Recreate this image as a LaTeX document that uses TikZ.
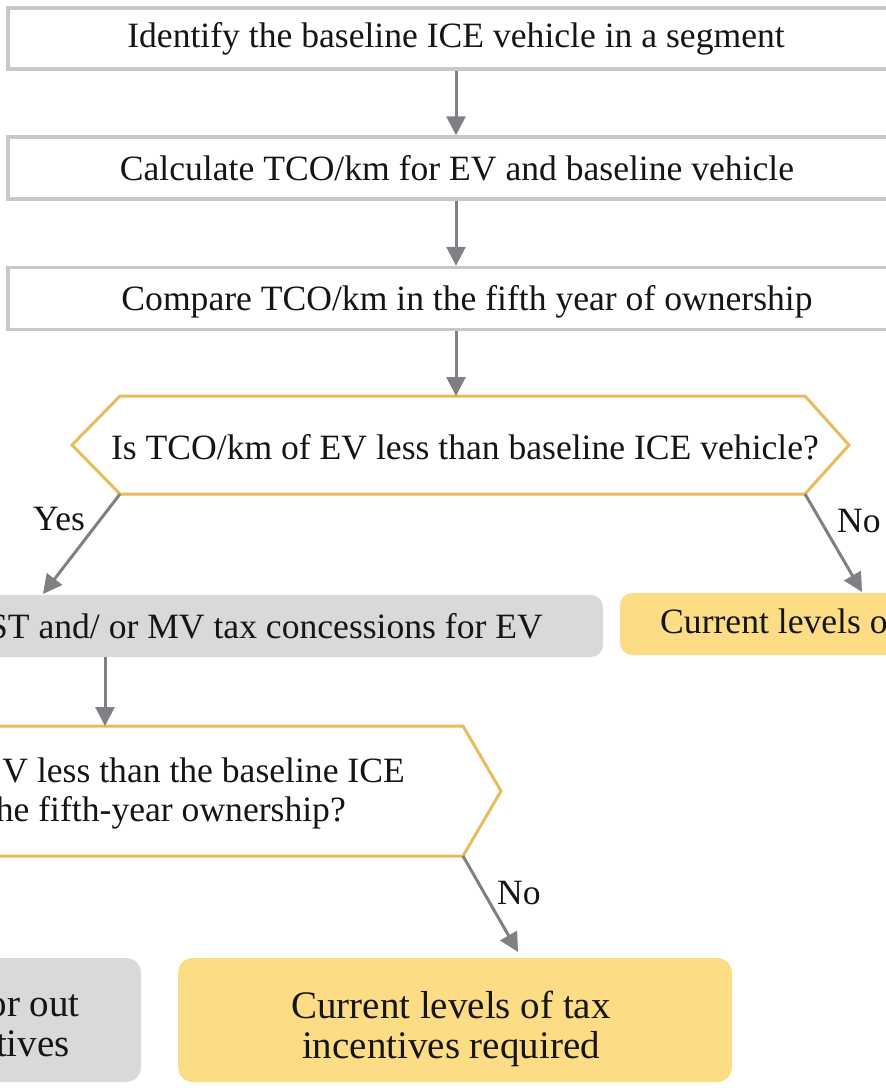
\documentclass[tikz,border=0pt]{standalone}
\usepackage{fontspec}
\setmainfont{Liberation Serif}
\usetikzlibrary{arrows.meta}
\definecolor{boxgray}{HTML}{C8C8C8}
\definecolor{arrowgray}{HTML}{808084}
\definecolor{hexyellow}{HTML}{E8BC5A}
\definecolor{fillgray}{HTML}{D9D9DB}
\definecolor{fillyellow}{HTML}{FDDC86}
\definecolor{inkblack}{HTML}{151515}
\newcommand\fsmain{\fontsize{35.6}{42}\selectfont}
\newcommand\fsbig{\fontsize{39}{46}\selectfont}
\tikzset{
  flowbox/.style={draw=boxgray, line width=3.5pt, fill=white, inner sep=0pt},
  hexline/.style={draw=hexyellow, line width=3pt, line join=miter, fill=white},
  graybox/.style={fill=fillgray, rounded corners=12pt},
  yellowbox/.style={fill=fillyellow, rounded corners=12pt},
  arr/.style={draw=arrowgray, line width=3pt, -{Triangle[length=19pt,width=19pt]}},
  txt/.style={inner sep=0pt, font=\fsmain, text=inkblack},
  bigtxt/.style={inner sep=0pt, font=\fsbig, text=inkblack},
}
\begin{document}
\begin{tikzpicture}[x=1pt,y=-1pt]
\useasboundingbox (0,0) rectangle (886,1088);
\clip (0,0) rectangle (886,1088);
% top process boxes
\node[flowbox, minimum width=896pt, minimum height=61pt] (b1) at (456,38.5) {};
\node[txt, anchor=base] (b1t) at (456,47) {Identify the baseline ICE vehicle in a segment};
\node[flowbox, minimum width=896pt, minimum height=62pt] (b2) at (456,168) {};
\node[txt, anchor=base] (b2t) at (457,180) {Calculate TCO/km for EV and baseline vehicle};
\node[flowbox, minimum width=896pt, minimum height=62pt] (b3) at (456,298.5) {};
\node[txt, anchor=base] (b3t) at (467,310) {Compare TCO/km in the fifth year of ownership};
% decision 1
\draw[hexline] (72,445) -- (120,396) -- (805,396) -- (849,445) -- (805,494) -- (120,494) -- cycle;
\coordinate (q1top) at (456,396);
\coordinate (q1bl) at (120,494);
\coordinate (q1br) at (805,494);
\node[txt, anchor=base] (q1t) at (465,459) {Is TCO/km of EV less than baseline ICE vehicle?};
% outcome boxes row 1
\fill[graybox] (-300,595) rectangle (603,657);
\coordinate (g1tip) at (43,594);
\coordinate (g1bot) at (105,657);
\node[txt, anchor=base east] (g1t) at (543,638) {ST and/ or MV tax concessions for EV};
\fill[yellowbox] (620,593) rectangle (1000,655);
\coordinate (y1tip) at (862,592);
\node[txt, anchor=base west] (y1t) at (660,633) {Current levels o};
% decision 2
\draw[hexline] (-100,726) -- (463,726) -- (501,791) -- (463,856) -- (-100,856);
\coordinate (q2top) at (105,726);
\coordinate (q2br) at (463,856);
\node[txt, anchor=base east] (q2a) at (405,782) {V less than the baseline ICE};
\node[txt, anchor=base east] (q2b) at (346,821) {he fifth-year ownership?};
% bottom boxes
\fill[graybox, rounded corners=15pt] (-200,958) rectangle (141,1082);
\node[bigtxt, anchor=base east] (g2a) at (80,1016) {or out};
\node[bigtxt, anchor=base east] (g2b) at (70,1056) {tives};
\fill[yellowbox, rounded corners=15pt] (178,958) rectangle (732,1082);
\coordinate (y2tip) at (518,952);
\node[bigtxt, anchor=base] (y2a) at (451,1018) {Current levels of tax};
\node[bigtxt, anchor=base] (y2b) at (451,1058) {incentives required};
% connectors
\draw[arr] (b1.south) -- (b2.north);
\draw[arr] (b2.south) -- (b3.north);
\draw[arr] (b3.south) -- (q1top);
\draw[arr] (q1bl) -- (g1tip);
\draw[arr] (q1br) -- (y1tip);
\draw[arr] (g1bot) -- (q2top);
\draw[arr] (q2br) -- (y2tip);
% labels
\node[txt, anchor=base west] (yes) at (33,530) {Yes};
\node[txt, anchor=base west] (no1) at (837,532) {No};
\node[txt, anchor=base west] (no2) at (497,904) {No};
\end{tikzpicture}
\end{document}
